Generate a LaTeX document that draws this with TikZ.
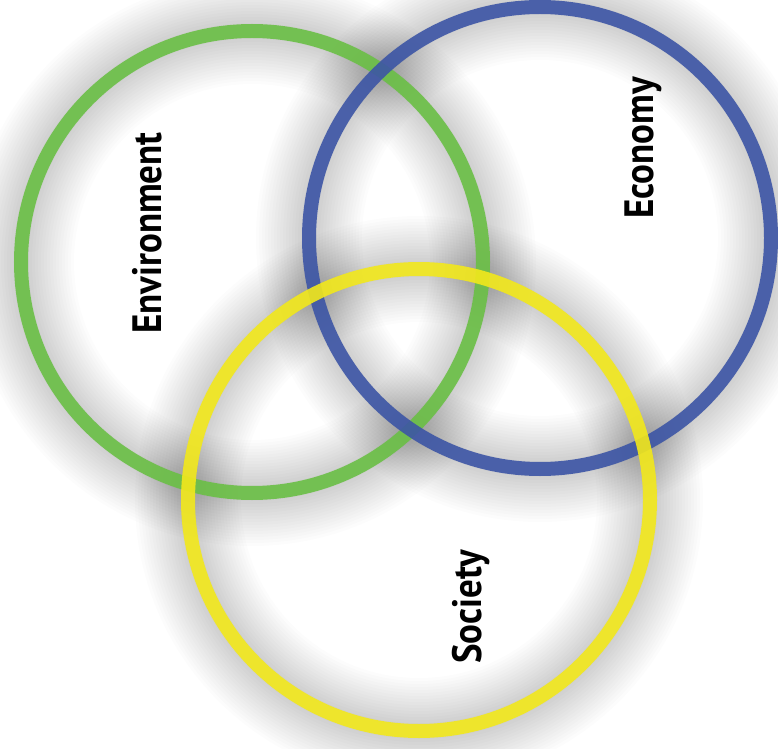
\documentclass[tikz,border=0pt]{standalone}
\usepackage{fontspec}
\newfontfamily\lblfont[FakeStretch=0.9]{PT Sans}
\usetikzlibrary{positioning}
\definecolor{envgreen}{HTML}{6ABF45}
\definecolor{ecoblue}{HTML}{3C55A5}
\definecolor{socyellow}{HTML}{F2E81B}
\tikzset{
  ring/.style={ % one of the three rings
    circle, draw=#1, line width=14pt,
    minimum size=462pt, inner sep=0pt,
    draw opacity=0.9
  },
  ringshade/.style={ % soft grey halo under a ring
    draw=black, draw opacity=0.011
  },
  ringlabel/.style={
    font=\lblfont\bfseries\fontsize{41}{41}\selectfont,
    rotate=90, text=black, inner sep=0pt
  }
}
\begin{document}
\begin{tikzpicture}[x=1pt, y=1pt]
  \useasboundingbox (0,0) rectangle (778,748);
  \fill[white] (0,0) rectangle (778,748);

  \coordinate (envc) at (252,486);
  \coordinate (ecoc) at (540,510);
  \coordinate (socc) at (419,248);

  % halos first
  \foreach \c in {envc,ecoc,socc}
    \foreach \w in {16,22,...,110}
      \draw[ringshade, line width=\w pt] (\c) circle (231);

  \node[ring=envgreen] (env) at (envc) {};
  \node[ring=ecoblue] (eco) at (ecoc) {};
  \node[ring=socyellow] (soc) at (socc) {};

  \node[ringlabel] (env_label) at (147,515) {Environment};
  \node[ringlabel] (eco_label) at (643,600) {Economy};
  \node[ringlabel] (soc_label) at (471,141) {Society};
\end{tikzpicture}
\end{document}
